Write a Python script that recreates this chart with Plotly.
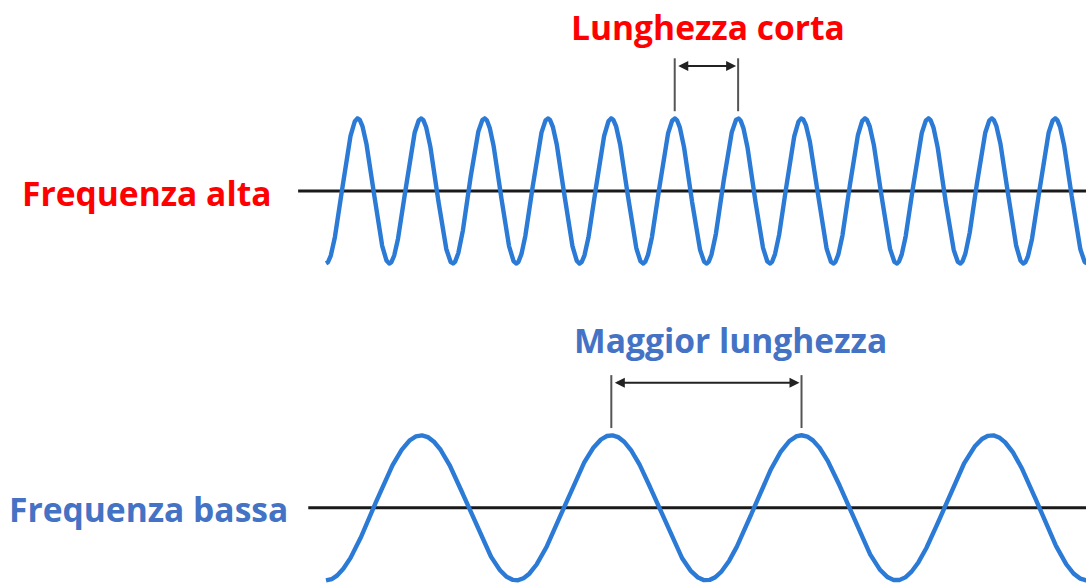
import numpy as np
import plotly.graph_objects as go

W, H = 1086, 583

# ---- data (x in units of the short wavelength, y in units of amplitude) ----
row_labels = ["Frequenza alta", "Frequenza bassa"]
row_label_colors = ["#FF0000", "#4472C4"]
bracket_labels = ["Lunghezza corta", "Maggior lunghezza"]
wavelengths = [1.0, 3.0]
amplitudes = [1.0, 1.0]
baselines = [0.0, -4.37]
bracket_first_peak = [5.5, 4.5]
wave_x_start, wave_x_end = 0.0, 12.0
axis_line_start = [-0.44, -0.28]

# ---- styles / layout ----
X_RANGE = [-5.142, 11.987]
Y_RANGE = [-5.407, 2.634]
WAVE_COLOR = "#2a7ad6"
FONT = "Open Sans"
FONT_SIZE = 33.6

label_pos = [(147, 193), (148.5, 509)]     # px centres of row labels
title_pos = [(707.5, 27), (730.5, 340)]    # px centres of bracket titles


def px2paper(px, py):
    return px / W, 1 - py / H


fig = go.Figure()
shapes = []
annotations = []

for i in range(2):
    lam, A, b = wavelengths[i], amplitudes[i], baselines[i]
    # baseline
    fig.add_trace(go.Scatter(x=[axis_line_start[i], wave_x_end + 1], y=[b, b], mode="lines",
                             line=dict(color="#1a1a1a", width=3), hoverinfo="skip", showlegend=False))
    # wave
    xs = np.linspace(wave_x_start, wave_x_end, 3000)
    ys = b - A * np.cos(2 * np.pi * xs / lam)
    fig.add_trace(go.Scatter(x=xs, y=ys, mode="lines",
                             line=dict(color=WAVE_COLOR, width=4.4),
                             hoverinfo="skip", showlegend=False))
    # bracket
    x1 = bracket_first_peak[i]
    x2 = x1 + lam
    peak = b + A
    for xv in (x1, x2):
        shapes.append(dict(type="line", xref="x", yref="y", x0=xv, x1=xv,
                           y0=peak + 0.1, y1=peak + 0.83, line=dict(color="#555555", width=2)))
    ya = peak + 0.725
    annotations.append(dict(x=x2, y=ya, ax=x1, ay=ya, xref="x", yref="y", axref="x", ayref="y",
                            text="", showarrow=True, arrowside="end+start", arrowhead=2,
                            arrowsize=1, arrowwidth=2, arrowcolor="#222222",
                            standoff=2, startstandoff=2))
    # texts
    lx, ly = px2paper(*label_pos[i])
    annotations.append(dict(x=lx, y=ly, xref="paper", yref="paper", text=row_labels[i],
                            showarrow=False, xanchor="center", yanchor="middle",
                            font=dict(family=FONT, size=FONT_SIZE, color=row_label_colors[i], weight="bold")))
    tx, ty = px2paper(*title_pos[i])
    annotations.append(dict(x=tx, y=ty, xref="paper", yref="paper", text=bracket_labels[i],
                            showarrow=False, xanchor="center", yanchor="middle",
                            font=dict(family=FONT, size=FONT_SIZE, color=row_label_colors[i], weight="bold")))

fig.update_layout(
    width=W, height=H, margin=dict(l=0, r=0, t=0, b=0),
    paper_bgcolor="white", plot_bgcolor="white",
    xaxis=dict(range=X_RANGE, visible=False, fixedrange=True),
    yaxis=dict(range=Y_RANGE, visible=False, fixedrange=True),
    shapes=shapes, annotations=annotations, showlegend=False,
)

fig.write_html("out.html", config={"displayModeBar": False},
               post_script="document.body.style.margin='0';document.body.style.overflow='hidden';")
